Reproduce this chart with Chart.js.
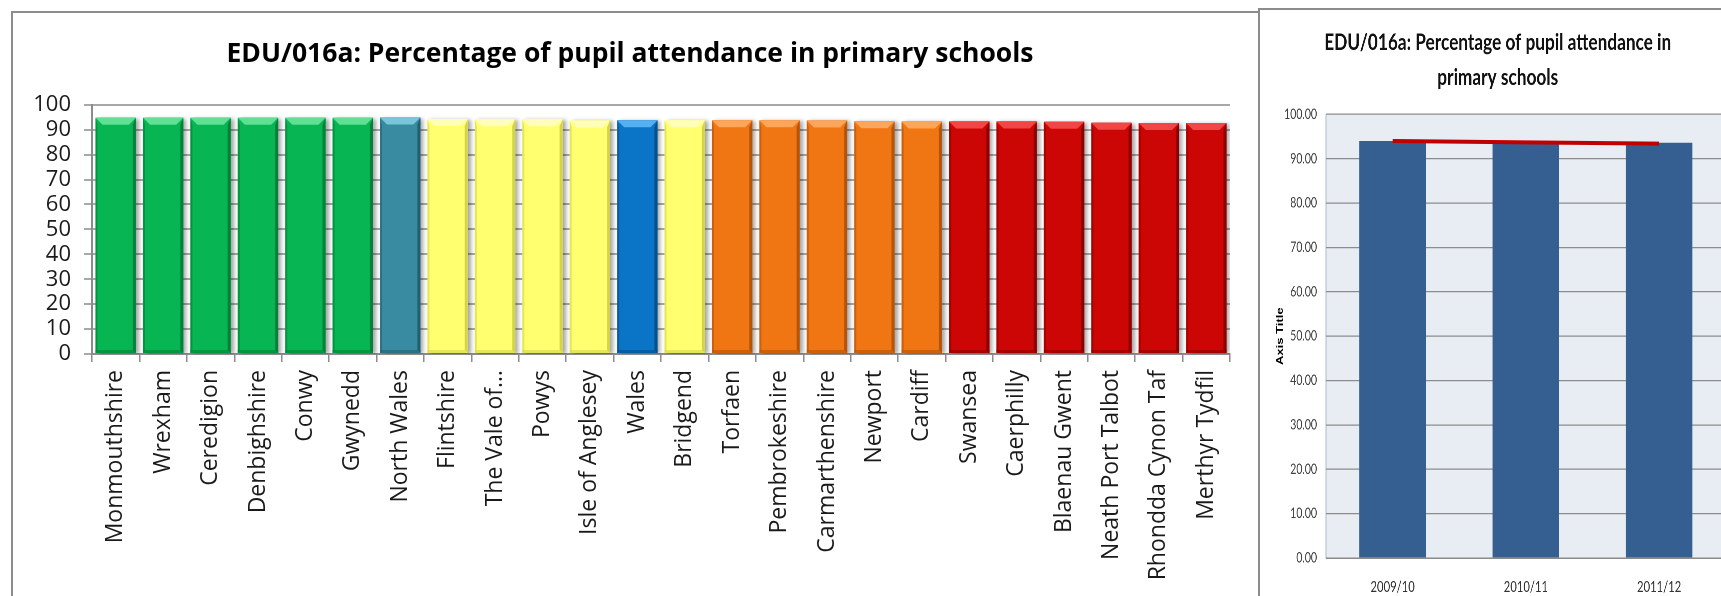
<!DOCTYPE html>
<html>
<head>
<meta charset="utf-8">
<title>EDU/016a: Percentage of pupil attendance in primary schools</title>
<script src="https://cdn.jsdelivr.net/npm/chart.js@4.4.1/dist/chart.umd.min.js"></script>
<style>
  html, body { margin: 0; padding: 0; background: #fff; }
  body { width: 1721px; height: 596px; overflow: hidden; position: relative; }
  #leftFrame { position: absolute; left: 11px; top: 11px; width: 1245px; height: 700px; border: 2px solid #8c8c8c; }
  #leftWrap { position: absolute; left: 0; top: 0; width: 1256px; height: 596px; }
  #rightFrame { position: absolute; left: 1258px; top: 8px; width: 600px; height: 700px; border: 2px solid #8c8c8c; background: #fff; }
  /* the right-hand chart is a squeezed copy in the original, so it is drawn wide and narrowed */
  #rightWrap { position: absolute; left: 1260px; top: 0; width: 660px; height: 596px; transform: scaleX(0.75); transform-origin: 0 0; }
</style>
</head>
<body>
<div id="leftFrame"></div>
<div id="leftWrap"><canvas id="councilChart"></canvas></div>
<div id="rightFrame"></div>
<div id="rightWrap"><canvas id="walesChart"></canvas></div>

<script>
// ---- authorities, 2011/12 ----
const councils = [
    'Monmouthshire', 'Wrexham', 'Ceredigion', 'Denbighshire', 'Conwy', 'Gwynedd',
    'North Wales', 'Flintshire', 'The Vale of\u2026', 'Powys', 'Isle of Anglesey', 'Wales',
    'Bridgend', 'Torfaen', 'Pembrokeshire', 'Carmarthenshire', 'Newport', 'Cardiff',
    'Swansea', 'Caerphilly', 'Blaenau Gwent', 'Neath Port Talbot', 'Rhondda Cynon Taf', 'Merthyr Tydfil'
];
const attendance = [
    94.8, 94.8, 94.8, 94.8, 94.8, 94.8,
    94.9, 94.3, 94.2, 94.2, 93.7, 93.8,
    93.8, 93.8, 93.8, 93.7, 93.4, 93.3,
    93.3, 93.3, 93.2, 92.8, 92.7, 92.7
];
const councilBand = [
    'top', 'top', 'top', 'top', 'top', 'top',
    'region', 'upper', 'upper', 'upper', 'upper', 'wales',
    'upper', 'lower', 'lower', 'lower', 'lower', 'lower',
    'bottom', 'bottom', 'bottom', 'bottom', 'bottom', 'bottom'
];
const yTicks = [0, 10, 20, 30, 40, 50, 60, 70, 80, 90, 100];

// ---- Wales over time ----
const years = ['2009/10', '2010/11', '2011/12'];
const walesAttendance = [94.0, 93.4, 93.6];
const walesTrend = [94.0, 93.7, 93.4];

// fill, highlight, shade
const bandColours = {
    top:    ['#07b552', '#5fe093', '#03803a'],
    region: ['#388ba0', '#79c6da', '#22606f'],
    upper:  ['#ffff70', '#ffffb8', '#d4d44a'],
    wales:  ['#0a74c6', '#55b0f0', '#064f88'],
    lower:  ['#f07513', '#fba65a', '#b4540a'],
    bottom: ['#cc0505', '#f04646', '#8c0000']
};

const bevel = {
    id: 'bevel',
    beforeDatasetsDraw(chart) {
        const ctx = chart.ctx;
        ctx.save();
        ctx.shadowColor = 'rgba(0,0,0,0.35)';
        ctx.shadowBlur = 4;
        ctx.shadowOffsetX = 3;
        ctx.shadowOffsetY = 1;
    },
    afterDatasetsDraw(chart) {
        const ctx = chart.ctx;
        ctx.restore();
        chart.getDatasetMeta(0).data.forEach((bar, i) => {
            const [, light, dark] = bandColours[councilBand[i]];
            const l = bar.x - bar.width / 2, r = bar.x + bar.width / 2;
            const t = bar.y, b = bar.base, bv = 7;
            ctx.save();
            ctx.fillStyle = light;
            ctx.beginPath();
            ctx.moveTo(l, t); ctx.lineTo(r, t); ctx.lineTo(r - bv, t + bv); ctx.lineTo(l + bv, t + bv);
            ctx.closePath();
            ctx.fill();
            ctx.fillStyle = dark;
            ctx.beginPath();
            ctx.moveTo(r, t); ctx.lineTo(r, b); ctx.lineTo(r - 3, b - 3); ctx.lineTo(r - 3, t + bv);
            ctx.closePath();
            ctx.fill();
            ctx.globalAlpha = 0.6;
            ctx.beginPath();
            ctx.moveTo(l, t); ctx.lineTo(l + 2, t + bv); ctx.lineTo(l + 2, b - 2); ctx.lineTo(l, b);
            ctx.closePath();
            ctx.fill();
            ctx.fillRect(l, b - 3, r - l, 3);
            ctx.restore();
        });
    }
};

new Chart(document.getElementById('councilChart'), {
    type: 'bar',
    data: {
        labels: councils,
        datasets: [{
            data: attendance,
            backgroundColor: councilBand.map(b => bandColours[b][0]),
            categoryPercentage: 1,
            barPercentage: 0.85
        }]
    },
    options: {
        responsive: true,
        maintainAspectRatio: false,
        animation: false,
        layout: { padding: { left: 30, right: 26, top: 0, bottom: 0 } },
        plugins: {
            legend: { display: false },
            tooltip: { enabled: false },
            title: {
                display: true,
                text: 'EDU/016a: Percentage of pupil attendance in primary schools',
                color: '#000',
                font: { family: 'Open Sans', weight: 'bold', size: 26.5, lineHeight: 1.2 },
                padding: { top: 39, bottom: 34 }
            }
        },
        scales: {
            x: {
                afterFit: s => { s.height = 242; },
                grid: { drawOnChartArea: false, drawTicks: true, tickLength: 8, color: '#8c8c8c', lineWidth: 1.5, offset: true },
                border: { color: '#8c8c8c', width: 2 },
                ticks: {
                    autoSkip: false, maxRotation: 90, minRotation: 90, padding: 8,
                    color: '#1a1a1a', font: { family: 'Open Sans', size: 23 }
                }
            },
            y: {
                min: 0, max: 100,
                afterFit: s => { s.width = 62; },
                afterBuildTicks: s => { s.ticks = yTicks.map(v => ({ value: v })); },
                grid: { color: '#a8a8a8', lineWidth: 2, tickLength: 8 },
                border: { color: '#8c8c8c', width: 2 },
                ticks: {
                    autoSkip: false, padding: 13, color: '#1a1a1a',
                    font: { family: 'Open Sans', size: 22, lineHeight: 1 }
                }
            }
        }
    },
    plugins: [bevel]
});

const plotBackground = {
    id: 'plotBackground',
    beforeDraw(chart, args, opts) {
        const { ctx, chartArea: a } = chart;
        ctx.save();
        ctx.fillStyle = opts.color;
        ctx.fillRect(a.left, a.top, a.right - a.left, a.bottom - a.top);
        ctx.strokeStyle = opts.edge;
        ctx.lineWidth = 1.5;
        ctx.beginPath();
        ctx.moveTo(a.left, a.top);
        ctx.lineTo(a.left, a.bottom);
        ctx.stroke();
        ctx.restore();
    }
};

new Chart(document.getElementById('walesChart'), {
    data: {
        labels: years,
        datasets: [{
            type: 'line',
            data: walesTrend,
            borderColor: '#c00000',
            borderWidth: 4,
            pointRadius: 0,
            fill: false,
            tension: 0
        }, {
            type: 'bar',
            data: walesAttendance,
            backgroundColor: '#365f91',
            categoryPercentage: 1,
            barPercentage: 0.5
        }]
    },
    options: {
        responsive: true,
        maintainAspectRatio: false,
        animation: false,
        devicePixelRatio: 2,
        layout: { padding: { left: 13, right: 39, top: 0, bottom: 0 } },
        plugins: {
            legend: { display: false },
            tooltip: { enabled: false },
            plotBackground: { color: '#e8ecf3', edge: '#b7c3d3' },
            title: {
                display: true,
                text: ['EDU/016a: Percentage of pupil attendance in', 'primary schools'],
                color: '#111',
                font: { family: 'Lato', weight: 'bold', size: 23, lineHeight: 1.53 },
                padding: { top: 25, bottom: 19 }
            }
        },
        scales: {
            x: {
                afterFit: s => { s.height = 38; },
                grid: { display: false },
                border: { color: '#8a8a8a', width: 1.5 },
                ticks: { padding: 12, color: '#333', font: { family: 'Lato', size: 15 } }
            },
            y: {
                min: 0, max: 100,
                afterFit: s => { s.width = 75; },
                afterBuildTicks: s => { s.ticks = yTicks.map(v => ({ value: v })); },
                grid: { color: '#8c8c8c', lineWidth: 1.3, drawTicks: false },
                border: { display: false },
                ticks: {
                    autoSkip: false, padding: 12, color: '#404040',
                    font: { family: 'Lato', size: 14 }, callback: v => v.toFixed(2)
                },
                title: {
                    display: true,
                    text: 'Axis Title',
                    color: '#000',
                    font: { family: 'Liberation Sans', weight: 'bold', size: 13 },
                    padding: { top: 6, bottom: 0 }
                }
            }
        }
    },
    plugins: [plotBackground]
});
</script>
</body>
</html>
